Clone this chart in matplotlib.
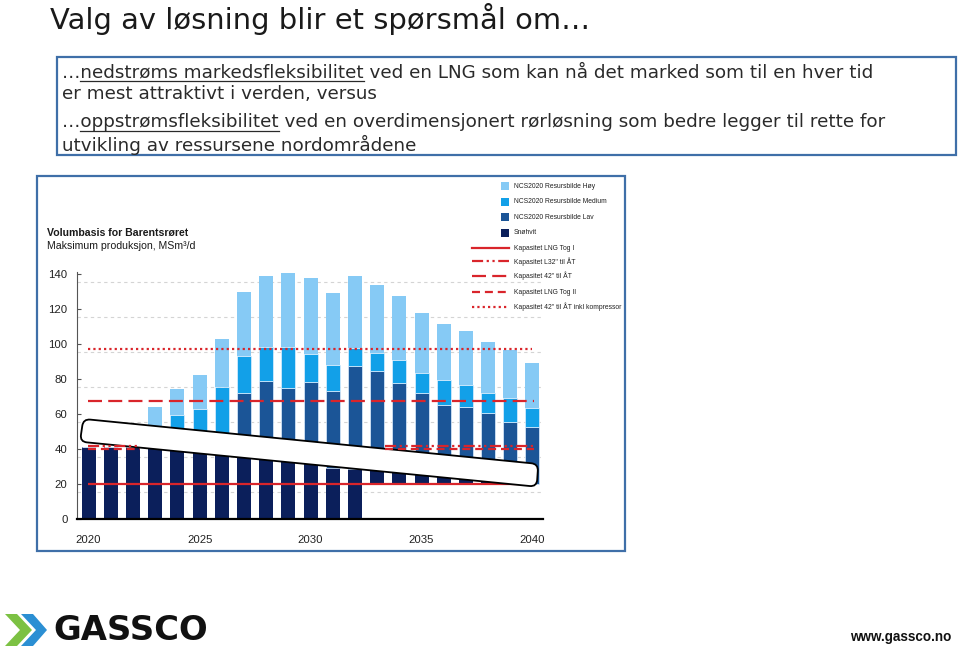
import matplotlib
matplotlib.use('Agg')
import matplotlib.pyplot as plt
from matplotlib import font_manager as fm
from matplotlib.patches import Rectangle, PathPatch, Polygon
from matplotlib.path import Path
from matplotlib.lines import Line2D
import numpy as np

# ---------------- data ----------------
years = list(range(2020, 2041))
snohvit = [41.4, 41.5, 41.0, 40.5, 40.0, 39.0, 38.0, 37.0, 36.0, 34.5, 32.5, 29.1, 28.5,
           8, 8, 7, 7, 6, 6, 5, 0]
snohvit_base = [0] * 13 + [20] * 8
lav = [0, 0, 0, 3.5, 6, 8, 11, 34.9, 43.1, 40.6, 45.7, 44.3, 59.0, 56.8, 49.6, 44.9,
       38.1, 38.3, 34.9, 30.7, 32.5]
medium = [0, 0, 0, 6, 13.3, 16.1, 26.3, 21.3, 19.1, 23.2, 16.3, 14.5, 10.3, 10.3, 13.3,
          11.8, 14.2, 12.2, 11.0, 13.4, 11.2]
hoy = [0, 0, 0, 14.3, 15.2, 19.3, 27.6, 36.4, 40.9, 42.1, 43.4, 41.3, 41.3, 38.6, 36.6,
       33.9, 32.0, 30.8, 29.1, 27.5, 25.3]

series_names = ['NCS2020 Resursbilde Høy', 'NCS2020 Resursbilde Medium',
                'NCS2020 Resursbilde Lav', 'Snøhvit']
series_colors = ['#86CAF5', '#12A0E8', '#1B5597', '#0B1F5B']

cap_names = ['Kapasitet LNG Tog I', 'Kapasitet L32" til ÅT', 'Kapasitet 42" til ÅT',
             'Kapasitet LNG Tog II', 'Kapasitet 42" til ÅT inkl kompressor']
cap_values = [20, 42, 67.3, 40, 97]
cap_periods = [[(2019.95, 2040.05)],
               [(2019.95, 2022.3), (2033.35, 2040.05)],
               [(2019.95, 2040.05)],
               [(2019.95, 2022.3), (2033.35, 2040.05)],
               [(2019.95, 2040.0)]]
cap_styles = ['-', (0, (5, 1.6, 1, 1.6, 1, 1.6)), (0, (6.3, 2.8)), (0, (3.6, 2.2)), (0, (1, 1.4))]

yticks = [0, 20, 40, 60, 80, 100, 120, 140]
xticks = [2020, 2025, 2030, 2035, 2040]
grid_levels = [15.6, 35.6, 55.6, 75.6, 95.6, 115.6, 135.6]

BAND_CORNERS = [(2019.76, 57.3), (2040.26, 31.6), (2040.19, 18.6), (2019.61, 44.3)]

title = 'Valg av løsning blir et spørsmål om…'
body_lines = [('…', 'nedstrøms markedsfleksibilitet',
               ' ved en LNG som kan nå det marked som til en hver tid'),
              ('', '', 'er mest attraktivt i verden, versus'),
              ('…', 'oppstrømsfleksibilitet',
               ' ved en overdimensjonert rørløsning som bedre legger til rette for'),
              ('', '', 'utvikling av ressursene nordområdene')]

# ---------------- fonts ----------------
def have(name):
    try:
        fm.findfont(fm.FontProperties(family=name), fallback_to_default=False)
        return True
    except Exception:
        return False

NARROW = 'Liberation Sans Narrow' if have('Liberation Sans Narrow') else 'Liberation Sans'
IS_NARROW = NARROW == 'Liberation Sans Narrow'
SLIDE = 'DejaVu Sans'

W, H = 960, 650
fig = plt.figure(figsize=(9.6, 6.5), dpi=100)
fig.patch.set_facecolor('white')
renderer = fig.canvas.get_renderer()

def fx(px):
    return px / W

def fy(py):
    return 1 - py / H

def fit(t, target):
    w = t.get_window_extent(renderer).width
    t.set_fontsize(t.get_fontsize() * target / w)
    return t

def text_width(s, size, family, weight='normal'):
    t = fig.text(0, 0, s, fontsize=size, family=family, weight=weight)
    w = t.get_window_extent(renderer).width
    t.remove()
    return w

# ---------------- slide title & text box ----------------
t = fig.text(fx(50), fy(19), title, family=SLIDE, fontsize=20, color='#1a1a1a',
             va='center', ha='left')
fit(t, 540)

fig.add_artist(Rectangle((fx(57), fy(155)), fx(956) - fx(57), fy(57) - fy(155),
                         transform=fig.transFigure, fill=False, edgecolor='#3F6FA8', lw=1.6))

body_size = 12
full1 = ''.join(body_lines[0])
body_size = body_size * 811 / text_width(full1, body_size, SLIDE)
line_y = [72, 94, 122, 145]
for (pre, under, rest), yy in zip(body_lines, line_y):
    full = pre + under + rest
    fig.text(fx(62), fy(yy), full, family=SLIDE, fontsize=body_size, color='#2a2a2a',
             va='center', ha='left')
    if under:
        x0 = 62 + (text_width(pre, body_size, SLIDE) if pre else 0)
        x1 = 62 + text_width(pre + under, body_size, SLIDE)
        fig.add_artist(Line2D([fx(x0), fx(x1)], [fy(yy + 9), fy(yy + 9)],
                              transform=fig.transFigure, color='#2a2a2a', lw=0.9))

# ---------------- chart frame ----------------
fig.add_artist(Rectangle((fx(37), fy(551)), fx(625) - fx(37), fy(176) - fy(551),
                         transform=fig.transFigure, fill=False, edgecolor='#3F6FA8', lw=1.6))

# ---------------- axes ----------------
x_left, x_right = 2019.49, 2040.46
y_top = 141
ax = fig.add_axes([77.3 / W, (H - 519.3) / H, (542.7 - 77.3) / W, (519.3 - 272.3) / H])
ax.set_xlim(x_left, x_right)
ax.set_ylim(0, y_top)
ax.set_facecolor('none')

ax.hlines(grid_levels, x_left, x_right, colors='#d4d4d4', linestyles=(0, (3, 3)),
          lw=0.8, zorder=1)

yrs = np.array(years, dtype=float)
b0 = np.array(snohvit_base, dtype=float)
s = np.array(snohvit, dtype=float)
l = np.array(lav, dtype=float)
m = np.array(medium, dtype=float)
h = np.array(hoy, dtype=float)
bw = 0.63
ax.bar(yrs, s, bw, bottom=b0, color=series_colors[3], zorder=2, lw=0)
ax.bar(yrs, l, bw, bottom=b0 + s, color=series_colors[2], zorder=2,
       edgecolor='#dfefff', lw=0.5)
ax.bar(yrs, m, bw, bottom=b0 + s + l, color=series_colors[1], zorder=2,
       edgecolor='#dfefff', lw=0.5)
ax.bar(yrs, h, bw, bottom=b0 + s + l + m, color=series_colors[0], zorder=2, lw=0)

red = '#D9252B'
for val, periods, ls, i in zip(cap_values, cap_periods, cap_styles, range(5)):
    z = 5 if i in (1, 3) else 3
    for a, b in periods:
        ax.plot([a, b], [val, val], color=red, lw=1.6, linestyle=ls, zorder=z,
                solid_capstyle='butt', dash_capstyle='butt')

# rounded white band
def rounded_path(pts, r):
    pts = np.asarray(pts, float)
    n = len(pts)
    verts, codes = [], []
    for i in range(n):
        p = pts[i]
        prv = pts[i - 1]
        nxt = pts[(i + 1) % n]
        d1 = (prv - p) / np.linalg.norm(prv - p)
        d2 = (nxt - p) / np.linalg.norm(nxt - p)
        a = p + d1 * r
        b = p + d2 * r
        if i == 0:
            verts.append(a); codes.append(Path.MOVETO)
        else:
            verts.append(a); codes.append(Path.LINETO)
        verts += [p, b]; codes += [Path.CURVE3, Path.CURVE3]
    verts.append(verts[0]); codes.append(Path.CLOSEPOLY)
    return np.array(verts), codes

disp = ax.transData.transform(BAND_CORNERS)
v, c = rounded_path(disp, 7)
vdata = ax.transData.inverted().transform(v)
ax.add_patch(PathPatch(Path(vdata, c), facecolor='white', edgecolor='black', lw=1.3,
                       zorder=4, transform=ax.transData))

for sp in ['top', 'right']:
    ax.spines[sp].set_visible(False)
ax.spines['bottom'].set_color('black')
ax.spines['bottom'].set_linewidth(1.6)
ax.spines['bottom'].set_zorder(6)
ax.spines['left'].set_color('#555555')
ax.spines['left'].set_linewidth(0.8)

tick_size = 9 * 22.7 / text_width('2020', 9, NARROW) if IS_NARROW else 8.2
ax.set_yticks(yticks)
ax.set_yticklabels([str(v) for v in yticks], family=NARROW, fontsize=tick_size, color='#222222')
ax.tick_params(axis='y', direction='in', length=3, color='#555555', pad=7)
ax.set_xticks(xticks)
ax.set_xticklabels([str(v) for v in xticks], family=NARROW, fontsize=tick_size, color='#222222')
ax.tick_params(axis='x', length=0, pad=11)

# chart headings
t1 = fig.text(fx(47), fy(233), 'Volumbasis for Barentsrøret', family=NARROW,
              weight='bold', fontsize=7.6, color='#1a1a1a', va='center', ha='left')
t2 = fig.text(fx(47), fy(246), 'Maksimum produksjon, MSm³/d', family=NARROW,
              fontsize=7.6, color='#1a1a1a', va='center', ha='left')
if IS_NARROW:
    fit(t1, 138)
    fit(t2, 144)

# ---------------- legend ----------------
leg_size = 6 * 108 / text_width(cap_names[-1], 6, NARROW)
patch_rows = [186, 202, 217, 233]
for name, col, yy in zip(series_names, series_colors, patch_rows):
    fig.add_artist(Rectangle((fx(501), fy(yy + 4)), fx(8), 8 / H, transform=fig.transFigure,
                             facecolor=col, edgecolor='none'))
    fig.text(fx(514), fy(yy), name, family=NARROW, fontsize=leg_size, color='#222222',
             va='center', ha='left')
line_rows = [248, 261.5, 276, 292, 307]
for name, ls, yy in zip(cap_names, cap_styles, line_rows):
    fig.add_artist(Line2D([fx(472), fx(509)], [fy(yy), fy(yy)], transform=fig.transFigure,
                          color=red, lw=1.6, linestyle=ls, dash_capstyle='butt'))
    fig.text(fx(514), fy(yy), name, family=NARROW, fontsize=leg_size, color='#222222',
             va='center', ha='left')

# ---------------- logo & url ----------------
fig.add_artist(Polygon([(fx(5), fy(614)), (fx(17), fy(614)), (fx(32), fy(630)),
                        (fx(17), fy(646)), (fx(5), fy(646)), (fx(20), fy(630))],
                       closed=True, transform=fig.transFigure, facecolor='#7CC143',
                       edgecolor='none'))
fig.add_artist(Polygon([(fx(21), fy(614)), (fx(33), fy(614)), (fx(47), fy(630)),
                        (fx(33), fy(646)), (fx(21), fy(646)), (fx(36), fy(630))],
                       closed=True, transform=fig.transFigure, facecolor='#2B8FD3',
                       edgecolor='none'))
g = fig.text(fx(53), fy(630), 'GASSCO', family='DejaVu Sans', weight='bold', fontsize=20,
             color='#111111', va='center', ha='left')
fit(g, 155)
u = fig.text(fx(850), fy(637), 'www.gassco.no', family='Liberation Sans', weight='bold',
             fontsize=9, color='#111111', va='center', ha='left')
fit(u, 102)

fig.savefig('out.png', dpi=100, facecolor='white')
